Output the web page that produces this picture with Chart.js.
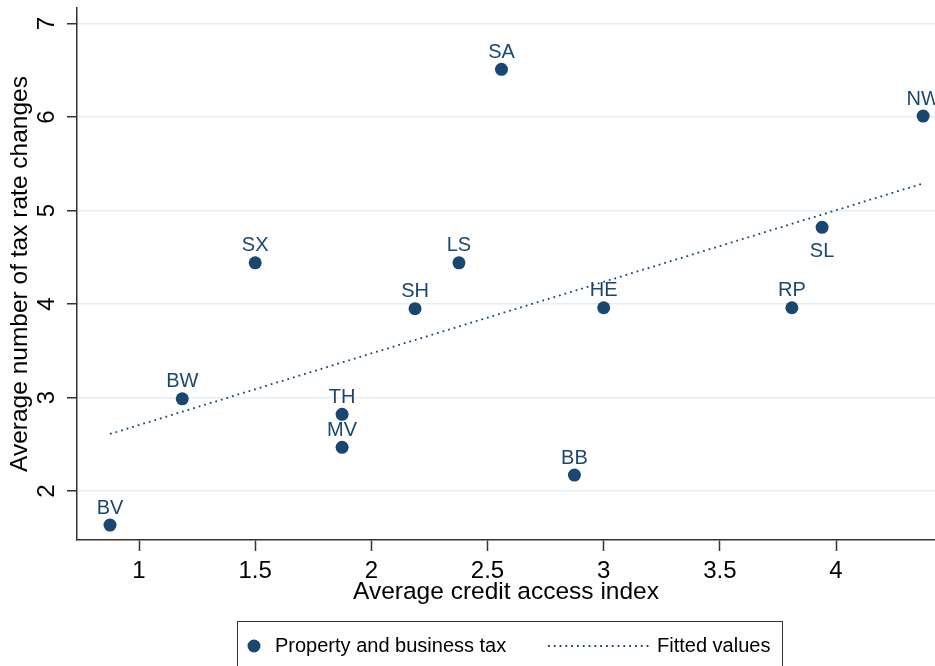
<!DOCTYPE html>
<html>
<head>
<meta charset="utf-8">
<script src="https://cdn.jsdelivr.net/npm/chart.js@4.4.1/dist/chart.umd.min.js"></script>
<style>
  html, body { margin: 0; padding: 0; background: #fff; }
  canvas { display: block; }
</style>
</head>
<body>
<canvas id="chart" width="935" height="666"></canvas>
<script>
// State codes and their averages
const states      = ['BV', 'BW', 'SX', 'TH', 'MV', 'SH', 'LS', 'SA', 'BB', 'HE', 'RP', 'SL', 'NW'];
const creditIndex = [0.875, 1.186, 1.5, 1.874, 1.874, 2.188, 2.377, 2.56, 2.874, 3.0, 3.81, 3.94, 4.375];
const taxChanges  = [1.636, 2.986, 4.44, 2.82, 2.467, 3.95, 4.44, 6.51, 2.17, 3.96, 3.96, 4.82, 6.01];

// Fitted regression line (ends at the smallest and largest index)
const fitX = [0.875, 4.375];
const fitY = [2.61, 5.29];

// Axis ticks
const xTicks = [1, 1.5, 2, 2.5, 3, 3.5, 4];
const yTicks = [2, 3, 4, 5, 6, 7];

// Labels placed under their marker instead of above
const labelsBelow = ['SL'];

const NAVY = '#1a476f';
const AXIS = '#333333';
const FONT = '"Liberation Sans", Arial, Helvetica, sans-serif';

// Writes each state code next to its marker
const pointLabels = {
  id: 'pointLabels',
  afterDatasetsDraw(chart) {
    const meta = chart.getDatasetMeta(0);
    const ctx = chart.ctx;
    ctx.save();
    ctx.font = '20px ' + FONT;
    ctx.fillStyle = NAVY;
    ctx.textAlign = 'center';
    ctx.textBaseline = 'alphabetic';
    meta.data.forEach((pt, i) => {
      const below = labelsBelow.includes(states[i]);
      ctx.fillText(states[i], pt.x, below ? pt.y + 29.5 : pt.y - 11.5);
    });
    ctx.restore();
  }
};

// Boxed legend under the x-axis title
const boxLegend = {
  id: 'boxLegend',
  afterDraw(chart) {
    const ctx = chart.ctx;
    const ds = chart.data.datasets;
    const cy = 646;
    ctx.save();
    ctx.strokeStyle = AXIS;
    ctx.lineWidth = 1;
    ctx.strokeRect(237.5, 621.5, 545, 60);

    ctx.fillStyle = NAVY;
    ctx.beginPath();
    ctx.arc(254, cy, 6.5, 0, Math.PI * 2);
    ctx.fill();

    ctx.font = '20px ' + FONT;
    ctx.fillStyle = '#000';
    ctx.textAlign = 'left';
    ctx.textBaseline = 'middle';
    ctx.fillText(ds[0].label, 275, cy);

    ctx.strokeStyle = NAVY;
    ctx.lineWidth = 1.8;
    ctx.setLineDash([1.8, 4]);
    ctx.beginPath();
    ctx.moveTo(548, cy);
    ctx.lineTo(650, cy);
    ctx.stroke();
    ctx.setLineDash([]);

    ctx.fillText(ds[1].label, 657, cy);
    ctx.restore();
  }
};

new Chart(document.getElementById('chart'), {
  data: {
    datasets: [
      {
        type: 'scatter',
        label: 'Property and business tax',
        data: creditIndex.map((x, i) => ({ x, y: taxChanges[i] })),
        backgroundColor: NAVY,
        borderWidth: 0,
        pointRadius: 6.5,
        pointHoverRadius: 6.5
      },
      {
        type: 'line',
        label: 'Fitted values',
        data: fitX.map((x, i) => ({ x, y: fitY[i] })),
        borderColor: NAVY,
        borderWidth: 1.8,
        borderDash: [1.8, 4],
        pointRadius: 0,
        fill: false,
        tension: 0
      }
    ]
  },
  options: {
    responsive: false,
    devicePixelRatio: 1,
    animation: false,
    events: [],
    layout: { autoPadding: false, padding: { top: 8, right: 0, bottom: 56, left: 0 } },
    plugins: {
      legend: { display: false },
      tooltip: { enabled: false }
    },
    scales: {
      x: {
        type: 'linear',
        bounds: 'data',
        min: 0.733,
        max: 4.426,
        afterBuildTicks: s => { s.ticks = xTicks.map(v => ({ value: v })); },
        afterFit: s => { s.height = 70; s.paddingLeft = 0; s.paddingRight = 0; },
        ticks: {
          font: { family: FONT, size: 24 },
          color: '#000',
          padding: 6,
          maxRotation: 0,
          callback: v => String(v)
        },
        grid: { drawOnChartArea: false, drawTicks: true, tickLength: 11, tickColor: AXIS, tickWidth: 1.5 },
        border: { display: true, color: AXIS, width: 1.5 },
        title: {
          display: true,
          text: 'Average credit access index',
          font: { family: FONT, size: 24.5 },
          color: '#000',
          padding: { top: 0, bottom: 2.6 }
        }
      },
      y: {
        type: 'linear',
        bounds: 'data',
        min: 1.476,
        max: 7.166,
        afterBuildTicks: s => { s.ticks = yTicks.map(v => ({ value: v })); },
        afterFit: s => { s.width = 77; s.paddingTop = 0; s.paddingBottom = 0; },
        ticks: {
          font: { family: FONT, size: 24 },
          color: '#000',
          padding: 13,
          minRotation: 90,
          maxRotation: 90,
          crossAlign: 'center',
          callback: v => String(v)
        },
        grid: { color: '#e6eef1', lineWidth: 1.5, tickLength: 10, tickColor: AXIS, tickWidth: 1.5 },
        border: { display: true, color: AXIS, width: 1.5 },
        title: {
          display: true,
          text: 'Average number of tax rate changes',
          font: { family: FONT, size: 24.5 },
          color: '#000',
          padding: { top: 5.6, bottom: 0 }
        }
      }
    }
  },
  plugins: [pointLabels, boxLegend]
});
</script>
</body>
</html>
